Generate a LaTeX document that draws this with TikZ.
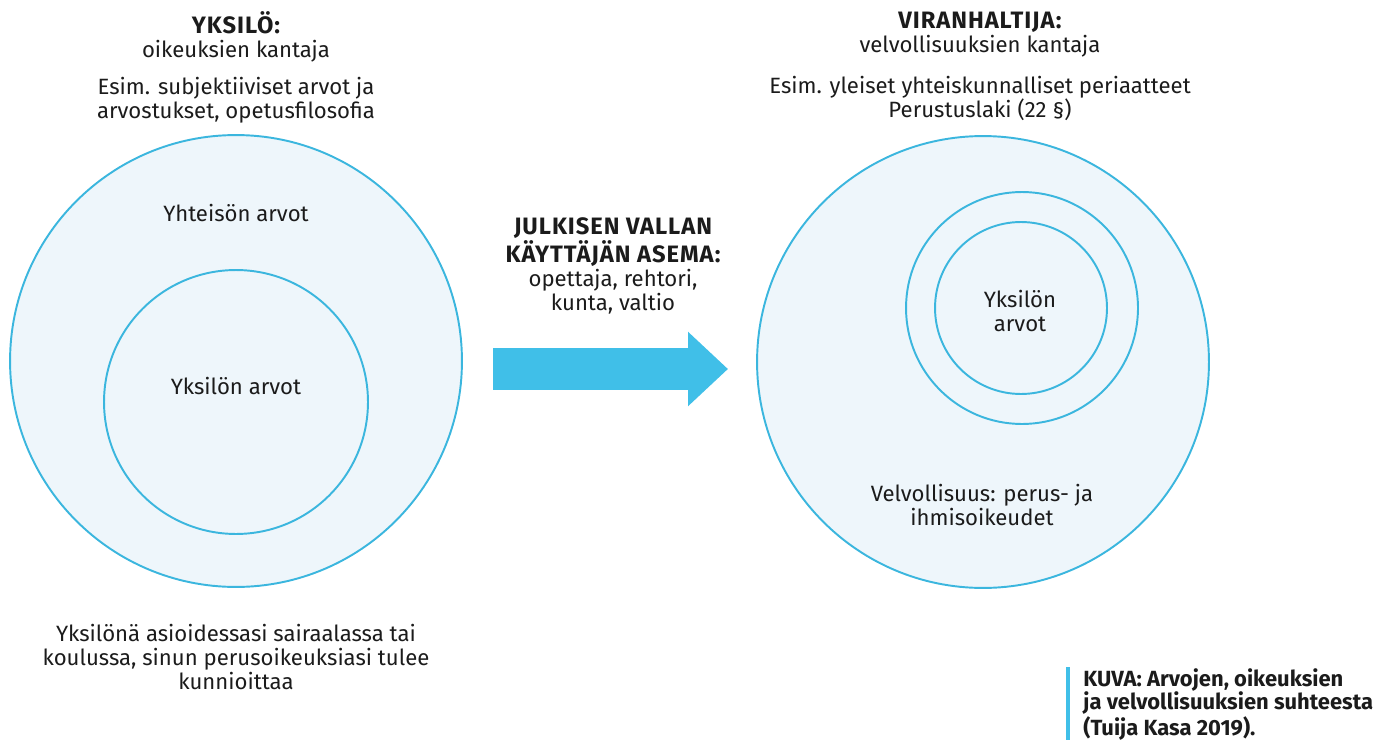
\documentclass[tikz,border=0pt]{standalone}
\usepackage{fontspec}
\setmainfont{Fira Sans}
\usepackage{xcolor}
\usepackage{tikz}
\usetikzlibrary{arrows.meta, positioning, calc}

\definecolor{ringblue}{HTML}{3BB6DE}
\definecolor{ringfill}{HTML}{EEF6FB}
\definecolor{arrowblue}{HTML}{40BFE8}
\definecolor{inkblack}{HTML}{1B1B1B}

\newcommand{\headfont}{\fontsize{13.5}{13.6}\selectfont\bfseries\addfontfeature{LetterSpace=4}}

\begin{document}
\begin{tikzpicture}[
    x=0.02cm, y=-0.02cm,
    ring/.style={circle, draw=ringblue, line width=1.1pt, fill=ringfill, inner sep=0pt},
    label/.style={align=center, text=inkblack, font=\fontsize{12.6}{13.6}\selectfont, inner sep=0pt},
    bigarrow/.style={arrowblue, line width=0.84cm, -{Triangle[length=0.8cm, width=1.44cm]}}
]
    \useasboundingbox (0,0) rectangle (1388,740);

    % left side: individual
    \node[ring, minimum size=9.04cm] (leftouter) at (236,361) {};
    \node[ring, minimum size=5.28cm] (leftinner) at (236,402) {};
    \node[label] (yksilo) at (236,36.5) {{\headfont YKSIL\"O:}\\oikeuksien kantaja};
    \node[label] (esimleft) at (236,100) {Esim. subjektiiviset arvot ja\\arvostukset, opetusfilosofia};
    \node[label] (yhteiso) at (236,213) {Yhteis\"on arvot};
    \node[label] (arvotleft) at (236,386) {Yksil\"on arvot};
    \node[label] (bottomnote) at (236,657) {Yksil\"on\"a asioidessasi sairaalassa tai\\koulussa, sinun perusoikeuksiasi tulee\\kunnioittaa};

    % middle: position of public authority
    \node[label] (asema) at (613,266) {{\headfont JULKISEN VALLAN}\\{\headfont K\"AYTT\"AJ\"AN ASEMA:}\\opettaja, rehtori,\\kunta, valtio};
    \coordinate (arrowstart) at (493,369);
    \coordinate (arrowend) at (728,369);
    \draw[bigarrow] (arrowstart) -- (arrowend);

    % right side: official
    \node[ring, minimum size=9.04cm] (rightouter) at (983,362) {};
    \node[ring, minimum size=4.64cm] (rightmid) at (1022,308) {};
    \node[ring, minimum size=3.44cm] (rightinner) at (1021,308) {};
    \node[label] (viranhaltija) at (980,35) {{\headfont VIRANHALTIJA:}\\velvollisuuksien kantaja};
    \node[label] (esimright) at (980,98.5) {Esim. yleiset yhteiskunnalliset periaatteet\\Perustuslaki (22 §)};
    \node[label] (arvotright) at (1020,311) {Yksil\"on\\arvot};
    \node[label] (velvollisuus) at (982,505) {Velvollisuus: perus- ja\\ihmisoikeudet};

    % caption
    \node[label, align=left, anchor=north west, font=\fontsize{12.5}{13.4}\selectfont\bfseries] (caption) at (1083,668)
        {KUVA: Arvojen, oikeuksien\\ja velvollisuuksien suhteesta\\(Tuija Kasa 2019).};
    \draw[arrowblue, line width=2.2pt] ($(caption.north west)+(-15,-1)$) -- ($(caption.north west)+(-15,72)$);
\end{tikzpicture}
\end{document}
